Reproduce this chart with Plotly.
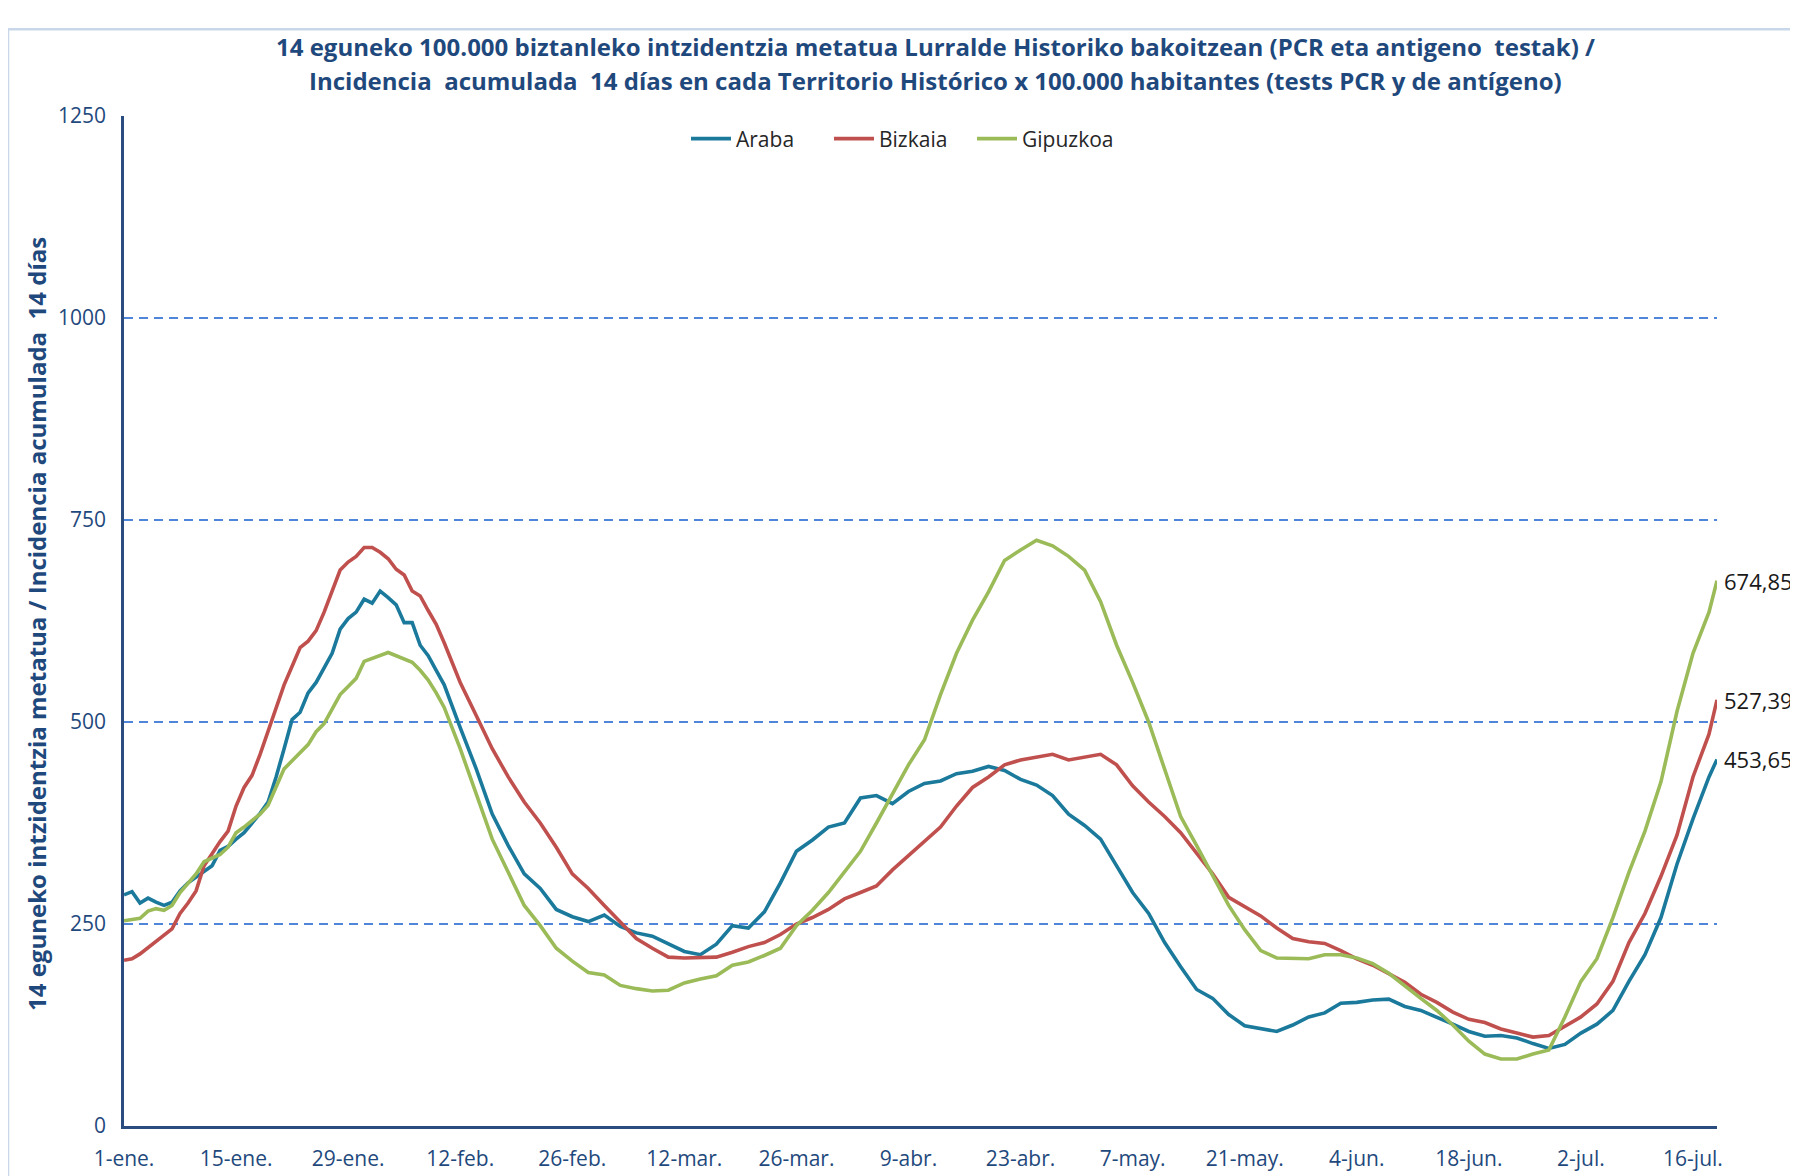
import datetime as dt
import plotly.graph_objects as go

# ---------------- data ----------------
start_date = dt.date(2021, 1, 1)
day_offsets = list(range(0, 41)) + list(range(42, 199, 2)) + [199]

araba = [286, 290, 276, 282, 277, 273, 277, 291, 301, 308, 314, 322, 341, 346, 355, 363,
         375, 387, 401, 432, 467, 503, 512, 536, 549, 567, 585, 615, 628, 636, 652, 647,
         662, 654, 645, 623, 623, 595, 582, 564, 546,
         493, 442, 386, 347, 312, 294, 268, 259, 253, 261, 247, 239, 235, 225, 216, 212,
         225, 248, 245, 265, 301, 340, 354, 370, 375, 406, 409, 399, 414, 424, 427, 436,
         439, 445, 440, 429, 422, 409, 386, 372, 355, 322, 289, 263, 227, 197, 169, 158,
         138, 124, 120, 117, 125, 135, 140, 152, 153, 156, 157, 148, 143, 135, 126, 117,
         111, 112, 109, 102, 96, 101, 115, 126, 143, 179, 212, 258, 324, 380, 432, 453.65]

bizkaia = [205, 207, 213, 221, 228, 237, 244, 263, 276, 291, 322, 337, 352, 365, 396, 419,
           434, 460, 488, 516, 546, 569, 592, 600, 613, 636, 661, 688, 698, 705, 716, 716,
           710, 702, 689, 682, 662, 656, 638, 621, 598,
           549, 508, 467, 432, 401, 375, 345, 312, 294, 273, 253, 232, 220, 209, 208, 208,
           209, 215, 222, 227, 237, 250, 258, 268, 281, 289, 297, 317, 335, 352, 370, 396,
           419, 432, 447, 453, 457, 460, 453, 456, 460, 447, 421, 401, 383, 363, 337, 312,
           283, 271, 260, 245, 232, 228, 226, 217, 207, 199, 189, 178, 163, 153, 141, 132,
           128, 120, 115, 110, 112, 123, 135, 151, 179, 227, 263, 309, 360, 432, 485, 527.39]

gipuzkoa = [254, 256, 257, 266, 269, 267, 273, 289, 301, 312, 327, 332, 336, 345, 363, 370,
            378, 386, 397, 419, 442, 452, 462, 472, 488, 498, 516, 534, 544, 554, 575, 579,
            582, 586, 582, 578, 574, 564, 552, 536, 518,
            467, 411, 355, 314, 273, 248, 220, 204, 190, 187, 174, 170, 167, 168, 177, 182,
            186, 199, 203, 211, 220, 248, 267, 289, 314, 340, 375, 411, 447, 478, 534, 585,
            626, 661, 700, 713, 725, 718, 705, 688, 649, 595, 549, 500, 442, 383, 347, 309,
            273, 243, 217, 208, 207, 207, 212, 212, 208, 201, 189, 173, 158, 143, 125, 105,
            89, 83, 83, 89, 94, 135, 179, 207, 258, 314, 365, 426, 513, 585, 636, 674.85]

series_names = ["Araba", "Bizkaia", "Gipuzkoa"]
end_labels = ["453,65", "527,39", "674,85"]

tick_day_offsets = list(range(0, 197, 14))
tick_labels = ["1-ene.", "15-ene.", "29-ene.", "12-feb.", "26-feb.", "12-mar.", "26-mar.",
               "9-abr.", "23-abr.", "7-may.", "21-may.", "4-jun.", "18-jun.", "2-jul.", "16-jul."]
y_ticks = [0, 250, 500, 750, 1000, 1250]

title_line1 = "14 eguneko 100.000 biztanleko intzidentzia metatua Lurralde Historiko bakoitzean (PCR eta antigeno  testak) /"
title_line2 = "Incidencia  acumulada  14 días en cada Territorio Histórico x 100.000 habitantes (tests PCR y de antígeno)"
y_title = "14 eguneko intzidentzia metatua / Incidencia acumulada  14 días"

# ---------------- styling ----------------
colors = ["#1B7A9C", "#C0504D", "#9BBB59"]
navy = "#1F497D"
axis_col = "#2B4C7E"
font_family = "'Open Sans', 'Noto Sans', sans-serif"

dates = [start_date + dt.timedelta(days=d) for d in day_offsets]
tick_vals = [start_date + dt.timedelta(days=d) for d in tick_day_offsets]

fig = go.Figure()
for name, vals, col in zip(series_names, [araba, bizkaia, gipuzkoa], colors):
    fig.add_trace(go.Scatter(x=dates, y=vals, mode="lines", name=name,
                             line=dict(color=col, width=3.6), hoverinfo="x+y"))

for vals, lab in zip([araba, bizkaia, gipuzkoa], end_labels):
    fig.add_annotation(x=dates[-1], y=vals[-1], text=lab, showarrow=False,
                       xanchor="left", yanchor="middle", xshift=5,
                       font=dict(family=font_family, size=22, color="#1a1a1a"))

OFF = 8  # page body margin
W, H = 1798, 1176
L = 124 - OFF
T = 116 - OFF
R = W - (1717 - OFF)
B = H - (1128 - OFF)
pw, ph = W - L - R, H - T - B

def px_x(sx):
    return (sx - OFF - L) / pw

def px_y(sy):
    return (H - B - (sy - OFF)) / ph

fig.add_annotation(xref="paper", yref="paper", x=px_x(935), y=px_y(46), text="<b>" + title_line1 + "</b>",
                   showarrow=False, xanchor="center", yanchor="middle",
                   font=dict(family=font_family, size=24, color=navy))
fig.add_annotation(xref="paper", yref="paper", x=px_x(935), y=px_y(80), text="<b>" + title_line2 + "</b>",
                   showarrow=False, xanchor="center", yanchor="middle",
                   font=dict(family=font_family, size=24, color=navy))
fig.add_annotation(xref="paper", yref="paper", x=px_x(37), y=px_y(625), text="<b>" + y_title + "</b>",
                   showarrow=False, textangle=-90, xanchor="center", yanchor="middle",
                   font=dict(family=font_family, size=24, color=navy))

# outer chart border
fig.add_shape(type="rect", xref="paper", yref="paper",
              x0=px_x(8), x1=px_x(1840), y0=px_y(29), y1=px_y(1230),
              line=dict(color="#C9D7EA", width=2.5), fillcolor="rgba(0,0,0,0)", layer="below")

fig.update_layout(
    width=W, height=H,
    margin=dict(l=L, r=R, t=T, b=B),
    paper_bgcolor="white", plot_bgcolor="white",
    showlegend=True,
    legend=dict(orientation="h", x=px_x(686), y=px_y(139), xanchor="left", yanchor="middle",
                font=dict(family=font_family, size=21, color="#262626"),
                bgcolor="rgba(0,0,0,0)", itemwidth=40, tracegroupgap=0,
                entrywidth=88, entrywidthmode="pixels"),
    font=dict(family=font_family),
)
fig.update_xaxes(
    type="date",
    range=[start_date - dt.timedelta(hours=4), start_date + dt.timedelta(days=199)],
    tickvals=tick_vals, ticktext=tick_labels,
    showgrid=False, showline=True, linecolor=axis_col, linewidth=2.5,
    ticks="", ticklabelstandoff=12,
    tickfont=dict(family=font_family, size=21, color=navy),
    zeroline=False,
)
fig.update_yaxes(
    range=[0, 1250], tickvals=y_ticks,
    showgrid=True, gridcolor="#4F86D9", gridwidth=1.6, griddash="9px,6px",
    showline=True, linecolor=axis_col, linewidth=2.5,
    ticks="", ticklabelstandoff=11,
    tickfont=dict(family=font_family, size=21, color=navy),
    zeroline=False,
)

fig.write_html("out.html")
